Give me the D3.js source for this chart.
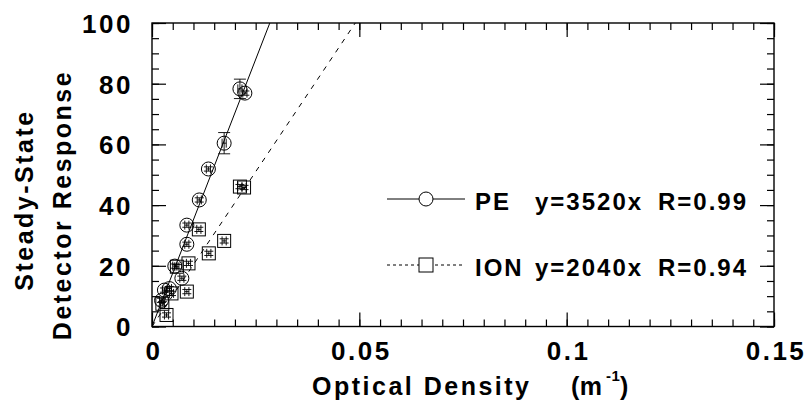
<!DOCTYPE html>
<html>
<head>
<meta charset="utf-8">
<script src="https://d3js.org/d3.v7.min.js"></script>
<style>
  body { margin: 0; background: #fff; }
  svg text { font-family: "Liberation Sans", Arial, sans-serif; font-weight: bold; fill: #000; }
  .tick-label { font-size: 26px; letter-spacing: 2.5px; }
  .title { font-size: 25px; letter-spacing: 2.5px; }
  .legend { font-size: 24px; letter-spacing: 2px; }
</style>
</head>
<body>
<svg id="chart" width="810" height="404"></svg>
<script>
// PE detector (circles)
const peX    = [0.0023, 0.0030, 0.0042, 0.0072, 0.0055, 0.0084, 0.0084, 0.0114, 0.0136, 0.0174, 0.0212, 0.0224];
const peY    = [8.6,    12.0,   12.5,   15.9,   19.9,   27.1,   33.4,   41.7,   51.9,   60.4,   78.3,   76.9];
const peErrX = [0.0005, 0.0005, 0.0005, 0.0005, 0.0005, 0.0005, 0.0005, 0.0005, 0.0005, 0.0005, 0.0005, 0.0005];
const peErrY = [0.7,    0.7,    0.7,    0.7,    0.7,    0.7,    0.7,    0.7,    0.7,    3.5,    3.2,    0.7];

// ION detector (squares)
const ionX    = [0.0035, 0.0025, 0.0047, 0.0084, 0.0060, 0.0088, 0.0113, 0.0137, 0.0174, 0.0212, 0.0222];
const ionY    = [3.8,    7.5,    10.9,   11.5,   19.7,   20.8,   32.0,   24.1,   28.2,   46.1,   45.8];
const ionErrX = [0.0005, 0.0005, 0.0005, 0.0005, 0.0005, 0.0005, 0.0005, 0.0005, 0.0005, 0.0005, 0.0005];
const ionErrY = [0.7,    0.7,    0.7,    0.7,    0.7,    0.7,    0.7,    0.7,    0.7,    0.7,    0.7];

// linear fits through origin
const fitSlopes = [3520, 2040];
const legendNames = ["PE", "ION"];
const legendFits  = ["y=3520x", "y=2040x"];
const legendR     = ["R=0.99", "R=0.94"];

const xTicks = [0, 0.05, 0.1, 0.15];
const yTicks = [0, 20, 40, 60, 80, 100];

const svg = d3.select("#chart");
const x = d3.scaleLinear().domain([0, 0.15]).range([152, 774]);
const y = d3.scaleLinear().domain([0, 100]).range([326.5, 23]);

const majorLen = 14, minorLen = 7;

function styleAxis(g) {
    g.select(".domain").remove();
    g.selectAll("line").attr("stroke", "#000").attr("stroke-width", 1.2);
}

// bottom
svg.append("g").attr("transform", `translate(0,${y(0)})`)
    .call(d3.axisBottom(x).tickValues(x.ticks(30)).tickSize(-minorLen).tickSizeOuter(0).tickFormat(""))
    .call(styleAxis);
const xAxis = svg.append("g").attr("transform", `translate(0,${y(0)})`)
    .call(d3.axisBottom(x).tickValues(xTicks).tickSize(-majorLen).tickSizeOuter(0).tickFormat(d => String(d)))
    .call(styleAxis);
xAxis.selectAll("text").attr("class", "tick-label").attr("y", 33.5).attr("dy", 0).attr("dx", 1.5);

// top
svg.append("g").attr("transform", `translate(0,${y(100)})`)
    .call(d3.axisTop(x).tickValues(x.ticks(30)).tickSize(-minorLen).tickSizeOuter(0).tickFormat(""))
    .call(styleAxis);
svg.append("g").attr("transform", `translate(0,${y(100)})`)
    .call(d3.axisTop(x).tickValues(xTicks).tickSize(-majorLen).tickSizeOuter(0).tickFormat(""))
    .call(styleAxis);

// left
svg.append("g").attr("transform", `translate(${x(0)},0)`)
    .call(d3.axisLeft(y).tickValues(y.ticks(20)).tickSize(-minorLen).tickSizeOuter(0).tickFormat(""))
    .call(styleAxis);
const yAxis = svg.append("g").attr("transform", `translate(${x(0)},0)`)
    .call(d3.axisLeft(y).tickValues(yTicks).tickSize(-majorLen).tickSizeOuter(0).tickFormat(d => String(d)))
    .call(styleAxis);
yAxis.selectAll("text").attr("class", "tick-label").attr("x", -19).attr("dy", "0.36em");

// right
svg.append("g").attr("transform", `translate(${x(0.15)},0)`)
    .call(d3.axisRight(y).tickValues(y.ticks(20)).tickSize(-minorLen).tickSizeOuter(0).tickFormat(""))
    .call(styleAxis);
svg.append("g").attr("transform", `translate(${x(0.15)},0)`)
    .call(d3.axisRight(y).tickValues(yTicks).tickSize(-majorLen).tickSizeOuter(0).tickFormat(""))
    .call(styleAxis);

// frame
svg.append("rect")
    .attr("x", x(0)).attr("y", y(100))
    .attr("width", x(0.15) - x(0)).attr("height", y(0) - y(100))
    .attr("fill", "none").attr("stroke", "#000").attr("stroke-width", 1.4);

svg.append("clipPath").attr("id", "plot-clip")
    .append("rect")
    .attr("x", x(0)).attr("y", y(100))
    .attr("width", x(0.15) - x(0)).attr("height", y(0) - y(100));

// fit lines
const dashes = [null, "5,6"];
const plot = svg.append("g").attr("clip-path", "url(#plot-clip)");
fitSlopes.forEach((k, i) => {
    plot.append("line")
        .attr("x1", x(0)).attr("y1", y(0))
        .attr("x2", x(0.15)).attr("y2", y(k * 0.15))
        .attr("stroke", "#000").attr("stroke-width", 1)
        .attr("stroke-dasharray", dashes[i]);
});

// markers
const capW = 4.5;
function marker(g, cx, cy, shape) {
    if (shape === "circle") {
        g.append("circle").attr("cx", cx).attr("cy", cy).attr("r", 7)
            .attr("fill", "none").attr("stroke", "#000").attr("stroke-width", 1);
    } else {
        g.append("rect").attr("x", cx - 6.5).attr("y", cy - 6.5).attr("width", 13).attr("height", 13)
            .attr("fill", "none").attr("stroke", "#000").attr("stroke-width", 1);
    }
}

function drawSeries(xs, ys, exs, eys, shape) {
    const g = svg.append("g").attr("stroke", "#000").attr("stroke-width", 0.9);
    xs.forEach((xv, i) => {
        const cx = x(xv), cy = y(ys[i]);
        const yTop = y(ys[i] + eys[i]), yBot = y(ys[i] - eys[i]);
        const xL = x(xv - exs[i]), xR = x(xv + exs[i]);
        const w = eys[i] > 2 ? 6 : capW;
        g.append("line").attr("x1", cx).attr("x2", cx).attr("y1", yTop).attr("y2", yBot);
        g.append("line").attr("x1", cx - w).attr("x2", cx + w).attr("y1", yTop).attr("y2", yTop);
        g.append("line").attr("x1", cx - w).attr("x2", cx + w).attr("y1", yBot).attr("y2", yBot);
        g.append("line").attr("x1", xL).attr("x2", xR).attr("y1", cy).attr("y2", cy);
        g.append("line").attr("x1", xL).attr("x2", xL).attr("y1", cy - capW).attr("y2", cy + capW);
        g.append("line").attr("x1", xR).attr("x2", xR).attr("y1", cy - capW).attr("y2", cy + capW);
        marker(g, cx, cy, shape);
    });
}
drawSeries(peX, peY, peErrX, peErrY, "circle");
drawSeries(ionX, ionY, ionErrX, ionErrY, "square");

// legend
const shapes = ["circle", "square"];
const legendY = [199, 265];
legendNames.forEach((name, i) => {
    const g = svg.append("g");
    g.append("line").attr("x1", 387).attr("x2", 465).attr("y1", legendY[i]).attr("y2", legendY[i])
        .attr("stroke", "#000").attr("stroke-width", 1)
        .attr("stroke-dasharray", i === 1 ? "3,3" : null);
    const m = g.append("g");
    if (shapes[i] === "circle") {
        m.append("circle").attr("cx", 426).attr("cy", legendY[i]).attr("r", 7)
            .attr("fill", "#fff").attr("stroke", "#000");
    } else {
        m.append("rect").attr("x", 419).attr("y", legendY[i] - 7).attr("width", 14).attr("height", 14)
            .attr("fill", "#fff").attr("stroke", "#000");
    }
    const base = legendY[i] + 11;
    g.append("text").attr("class", "legend").attr("x", 475).attr("y", base).text(name);
    g.append("text").attr("class", "legend").attr("x", 535).attr("y", base).text(legendFits[i]);
    g.append("text").attr("class", "legend").attr("x", 658).attr("y", base).text(legendR[i]);
});

// axis titles
const xt = svg.append("g");
xt.append("text").attr("class", "title").attr("x", 312).attr("y", 395).text("Optical Density");
xt.append("text").attr("class", "title").attr("x", 571).attr("y", 395).style("letter-spacing", "0.5px").text("(m");
xt.append("text").attr("class", "title").attr("x", 606).attr("y", 381).style("font-size", "15px").style("letter-spacing", "0.5px").text("-1");
xt.append("text").attr("class", "title").attr("x", 620).attr("y", 395).text(")");

svg.append("text").attr("class", "title").attr("text-anchor", "middle")
    .attr("transform", "translate(33,200) rotate(-90)").text("Steady-State");
svg.append("text").attr("class", "title").attr("text-anchor", "middle")
    .attr("transform", "translate(70.5,205) rotate(-90)").text("Detector Response");
</script>
</body>
</html>
